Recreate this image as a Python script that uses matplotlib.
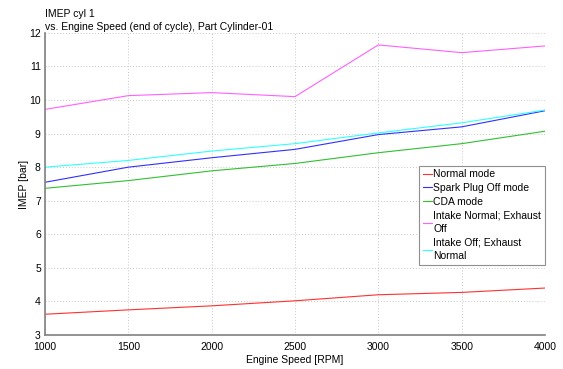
import matplotlib
matplotlib.use('Agg')
import matplotlib.pyplot as plt

rpm = [1000, 1500, 2000, 2500, 3000, 3500, 4000]
normal = [3.62, 3.75, 3.87, 4.02, 4.20, 4.27, 4.40]
spark_off = [7.55, 8.00, 8.28, 8.53, 8.97, 9.20, 9.68]
cda = [7.37, 7.60, 7.89, 8.11, 8.43, 8.70, 9.07]
exh_off = [9.72, 10.13, 10.22, 10.10, 11.64, 11.41, 11.61]
int_off = [8.00, 8.20, 8.48, 8.70, 9.02, 9.32, 9.70]

labels = ['Normal mode', 'Spark Plug Off mode', 'CDA mode',
          'Intake Normal; Exhaust\nOff', 'Intake Off; Exhaust\nNormal']
colors = ['#ff3030', '#3030ff', '#30c030', '#ff60ff', '#30ffff']

plt.rcParams['font.family'] = ['Liberation Sans', 'DejaVu Sans']

fig = plt.figure(figsize=(5.63, 3.69), dpi=100)
ax = fig.add_axes([0.08, 0.092, 0.888, 0.819])

for ys, lab, c in zip([normal, spark_off, cda, exh_off, int_off], labels, colors):
    ax.plot(rpm, ys, color=c, lw=0.8, label=lab)

ax.set_xlim(1000, 4000)
ax.set_ylim(3, 12)
ax.set_xticks(rpm)
ax.set_yticks(range(3, 13))
ax.tick_params(length=0, labelsize=7.5, pad=3)
ax.tick_params(axis='x', pad=5)
ax.grid(True, color='#c8c8c8', linestyle=(0, (1, 2)), lw=0.7)
for s in ['top', 'right']:
    ax.spines[s].set_visible(False)
for s in ['left', 'bottom']:
    ax.spines[s].set_color('#808080')
    ax.spines[s].set_linewidth(1.2)

ax.set_xlabel('Engine Speed [RPM]', fontsize=7.5, labelpad=2)
ax.set_ylabel('IMEP [bar]', fontsize=7.5, labelpad=0)

fig.text(0.08, 0.962, 'IMEP cyl 1', fontsize=7.5, ha='left', va='center')
fig.text(0.08, 0.927, 'vs. Engine Speed (end of cycle), Part Cylinder-01',
         fontsize=7.5, ha='left', va='center')

leg = ax.legend(loc='upper right', bbox_to_anchor=(1.0, 0.56), borderaxespad=0,
                fontsize=7.5, handlelength=0.9, handletextpad=0.15,
                labelspacing=0.35, fancybox=False, framealpha=1,
                edgecolor='#909090', borderpad=0.35)
leg.get_frame().set_linewidth(0.8)
for t in leg.get_texts():
    t.set_linespacing(1.45)

fig.savefig('out.png', dpi=100)
